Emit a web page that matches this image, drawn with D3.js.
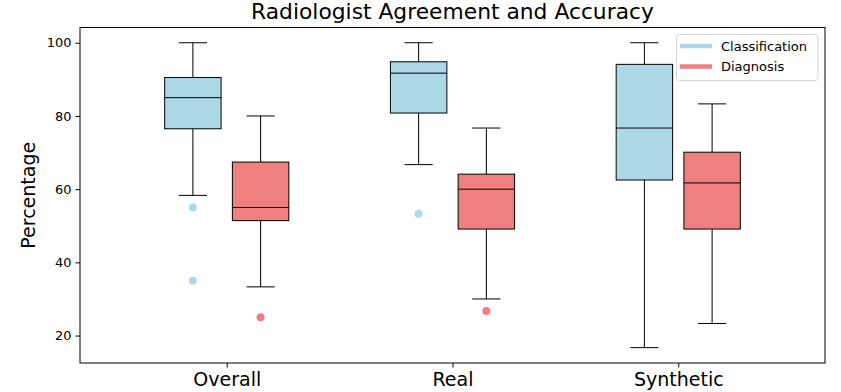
<!DOCTYPE html>
<meta charset="utf-8">
<script src="https://d3js.org/d3.v7.min.js"></script>
<style>
  body { margin: 0; background: #fff; }
  text { font-family: "DejaVu Sans", sans-serif; fill: #000; }
</style>
<body>
<svg width="841" height="392"></svg>
<script>
    // groups on the x axis
    var categories = ["Overall", "Real", "Synthetic"];
    var seriesNames = ["Classification", "Diagnosis"];
    var seriesColors = ["#add8e6", "#f08080"];

    // box stats: [lower whisker, q1, median, q3, upper whisker]
    var classStats = [
        [58.3, 76.5, 85.0, 90.5, 100],
        [66.7, 80.8, 91.7, 94.8, 100],
        [16.7, 62.5, 76.7, 94.1, 100]
    ];
    var diagStats = [
        [33.3, 51.4, 55.0, 67.4, 80.0],
        [30.0, 49.1, 60.0, 64.1, 76.7],
        [23.3, 49.1, 61.7, 70.1, 83.3]
    ];
    var classOutliers = [[55.0, 35.0], [53.3], []];
    var diagOutliers = [[25.0], [26.7], []];

    var yTicks = [20, 40, 60, 80, 100];

    var margin = {left: 80, top: 27.5, right: 825, bottom: 363};
    var svg = d3.select('svg');

    var x = d3.scaleLinear().domain([-0.65, 2.65]).range([margin.left, margin.right]);
    var y = d3.scaleLinear().domain([12.5, 104.17]).range([margin.bottom, margin.top]);

    var boxW = 0.25, offset = 0.15;

    // build one flat list of boxes
    var boxes = [];
    categories.forEach(function(c, i) {
        boxes.push({pos: i - offset, s: classStats[i], out: classOutliers[i], color: seriesColors[0]});
        boxes.push({pos: i + offset, s: diagStats[i], out: diagOutliers[i], color: seriesColors[1]});
    });

    var g = svg.append('g');
    var bw = x(boxW) - x(0);

    var bx = g.selectAll('g.box').data(boxes).enter().append('g').attr('class', 'box');

    // whiskers
    bx.append('line')
        .attr('x1', function(d){ return x(d.pos); }).attr('x2', function(d){ return x(d.pos); })
        .attr('y1', function(d){ return y(d.s[0]); }).attr('y2', function(d){ return y(d.s[1]); })
        .attr('stroke', '#000').attr('stroke-width', 1);
    bx.append('line')
        .attr('x1', function(d){ return x(d.pos); }).attr('x2', function(d){ return x(d.pos); })
        .attr('y1', function(d){ return y(d.s[3]); }).attr('y2', function(d){ return y(d.s[4]); })
        .attr('stroke', '#000').attr('stroke-width', 1);
    // caps (half box width)
    [0, 4].forEach(function(k) {
        bx.append('line')
            .attr('x1', function(d){ return x(d.pos) - bw / 4; })
            .attr('x2', function(d){ return x(d.pos) + bw / 4; })
            .attr('y1', function(d){ return y(d.s[k]); }).attr('y2', function(d){ return y(d.s[k]); })
            .attr('stroke', '#000').attr('stroke-width', 1);
    });
    // box
    bx.append('rect')
        .attr('x', function(d){ return x(d.pos) - bw / 2; })
        .attr('width', bw)
        .attr('y', function(d){ return y(d.s[3]); })
        .attr('height', function(d){ return y(d.s[1]) - y(d.s[3]); })
        .attr('fill', function(d){ return d.color; })
        .attr('stroke', '#000').attr('stroke-width', 1);
    // median
    bx.append('line')
        .attr('x1', function(d){ return x(d.pos) - bw / 2; })
        .attr('x2', function(d){ return x(d.pos) + bw / 2; })
        .attr('y1', function(d){ return y(d.s[2]); }).attr('y2', function(d){ return y(d.s[2]); })
        .attr('stroke', '#000').attr('stroke-width', 1);
    // fliers
    bx.selectAll('circle').data(function(d){ return d.out.map(function(v){ return {v: v, pos: d.pos, color: d.color}; }); })
        .enter().append('circle')
        .attr('cx', function(d){ return x(d.pos); })
        .attr('cy', function(d){ return y(d.v); })
        .attr('r', 4)
        .attr('fill', function(d){ return d.color; });

    // axes
    var yAxis = svg.append('g').attr('transform', 'translate(' + margin.left + ',0)')
        .call(d3.axisLeft(y).tickValues(yTicks).tickSize(4.5).tickPadding(4));
    yAxis.selectAll('text').style('font-size', '13px').style('font-family', '"DejaVu Sans", sans-serif');
    yAxis.select('.domain').remove();

    var xAxis = svg.append('g').attr('transform', 'translate(0,' + margin.bottom + ')')
        .call(d3.axisBottom(x).tickValues([0, 1, 2]).tickFormat(function(d){ return categories[d]; }).tickSize(4.5).tickPadding(5));
    xAxis.selectAll('text').style('font-size', '19px').style('font-family', '"DejaVu Sans", sans-serif');
    xAxis.select('.domain').remove();

    // frame
    svg.append('rect')
        .attr('x', margin.left).attr('y', margin.top)
        .attr('width', margin.right - margin.left).attr('height', margin.bottom - margin.top)
        .attr('fill', 'none').attr('stroke', '#000').attr('stroke-width', 1);

    // title and y label
    svg.append('text').attr('x', (margin.left + margin.right) / 2).attr('y', 19)
        .attr('text-anchor', 'middle').style('font-size', '21.8px')
        .text('Radiologist Agreement and Accuracy');
    svg.append('text').attr('transform', 'translate(35,' + ((margin.top + margin.bottom) / 2) + ') rotate(-90)')
        .attr('text-anchor', 'middle').style('font-size', '19px')
        .text('Percentage');

    // legend
    var lg = svg.append('g');
    lg.append('rect').attr('x', 676.5).attr('y', 34.5).attr('width', 141.5).attr('height', 46)
        .attr('rx', 3).attr('fill', '#fff').attr('fill-opacity', 0.8)
        .attr('stroke', '#d5d5d5').attr('stroke-width', 1);
    seriesNames.forEach(function(n, i) {
        var yy = 46 + i * 20.5;
        lg.append('line').attr('x1', 680).attr('x2', 712).attr('y1', yy).attr('y2', yy)
            .attr('stroke', seriesColors[i]).attr('stroke-width', 4.5);
        lg.append('text').attr('x', 721).attr('y', yy + 4.7).style('font-size', '13px').text(n);
    });
</script>
</body>
